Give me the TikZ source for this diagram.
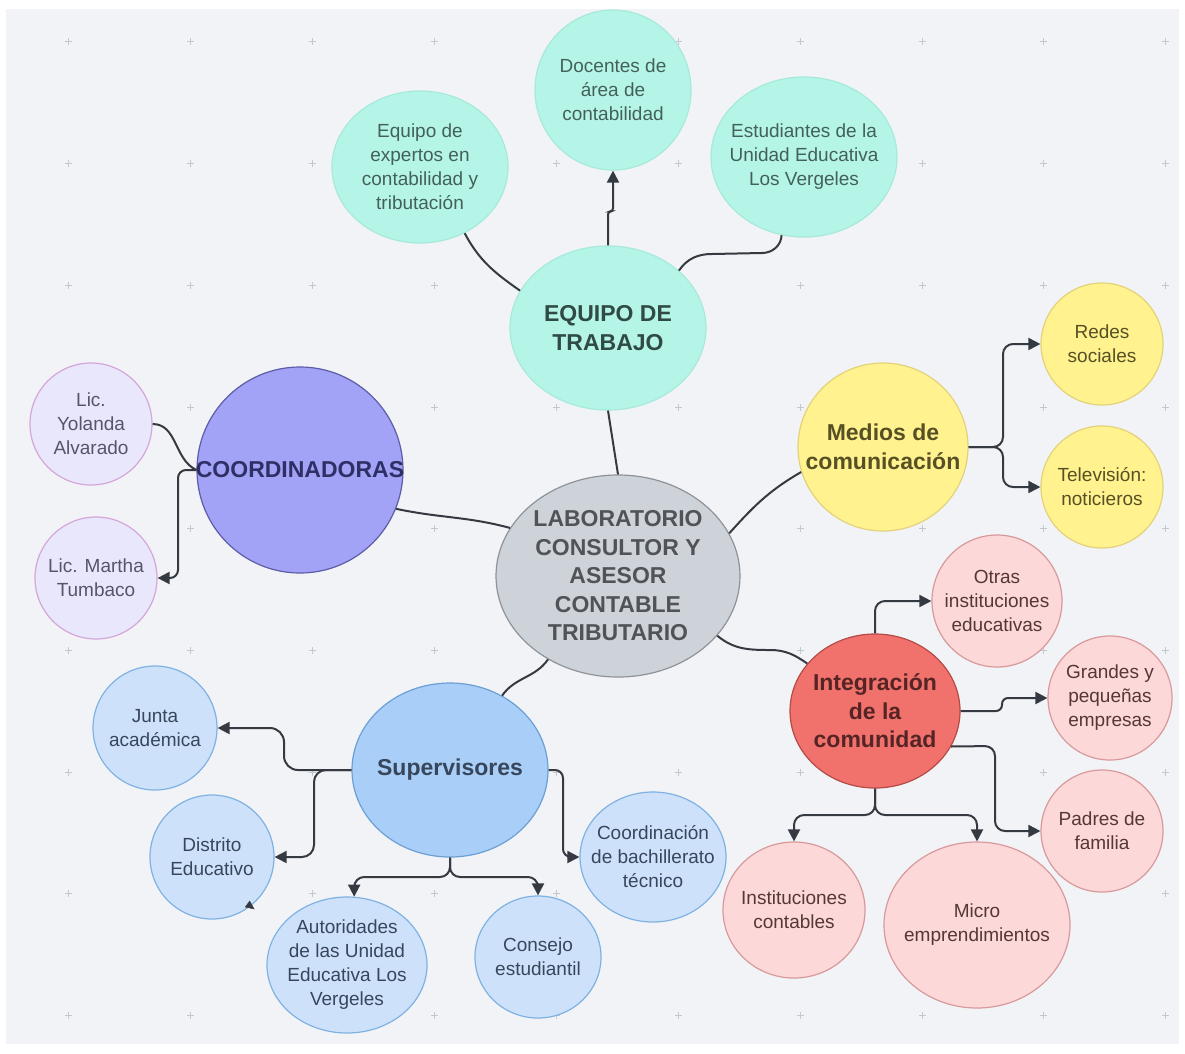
\documentclass[tikz,border=0pt]{standalone}
\usepackage{fontspec}
\setmainfont{Liberation Sans}
\usetikzlibrary{shapes.geometric,arrows.meta}
\definecolor{panel}{HTML}{F2F3F6}
\definecolor{gridc}{HTML}{C3C7CE}
\definecolor{linec}{HTML}{353A42}
\definecolor{tealF}{HTML}{B4F5E7}
\definecolor{tealD}{HTML}{A6EADB}
\definecolor{tealT}{HTML}{44605B}
\definecolor{tealBT}{HTML}{304A45}
\definecolor{coordF}{HTML}{A2A2F6}
\definecolor{coordD}{HTML}{5C5CA8}
\definecolor{coordT}{HTML}{2F2F66}
\definecolor{licF}{HTML}{E9E7FB}
\definecolor{licD}{HTML}{D4A6DA}
\definecolor{licT}{HTML}{55556D}
\definecolor{cenF}{HTML}{CED2D9}
\definecolor{cenD}{HTML}{8E939A}
\definecolor{cenT}{HTML}{505459}
\definecolor{yelF}{HTML}{FFF28F}
\definecolor{yelD}{HTML}{E3D27A}
\definecolor{yelT}{HTML}{575024}
\definecolor{intF}{HTML}{F1716C}
\definecolor{intD}{HTML}{B54A47}
\definecolor{intT}{HTML}{552424}
\definecolor{pkF}{HTML}{FCD8D8}
\definecolor{pkD}{HTML}{D9999B}
\definecolor{pkT}{HTML}{553737}
\definecolor{supF}{HTML}{A9CEF7}
\definecolor{supD}{HTML}{6C9FD6}
\definecolor{lbF}{HTML}{CDE2FA}
\definecolor{lbD}{HTML}{7FB2E2}
\definecolor{bluT}{HTML}{38465C}
\newcommand\bub[6]{%
  \node[#2,minimum width=#4pt,minimum height=#5pt] (#1) at (#3) {};
  \node[#2txt] (#1-t) at (#1.center) {#6};}
\begin{document}
\begin{tikzpicture}[x=1pt,y=1pt,
  shp/.style={ellipse,inner sep=0pt,line width=1.2pt},
  sm/.style={align=center,font=\fontsize{19}{24}\selectfont},
  bg/.style={align=center,font=\bfseries\fontsize{23}{28.5}\selectfont},
  tl/.style={shp,fill=tealF,draw=tealD}, tltxt/.style={sm,text=tealT},
  tlb/.style={shp,fill=tealF,draw=tealD}, tlbtxt/.style={bg,text=tealBT},
  pu/.style={shp,fill=coordF,draw=coordD}, putxt/.style={bg,text=coordT},
  lv/.style={shp,fill=licF,draw=licD}, lvtxt/.style={sm,text=licT},
  gy/.style={shp,fill=cenF,draw=cenD}, gytxt/.style={bg,text=cenT},
  ye/.style={shp,fill=yelF,draw=yelD}, yetxt/.style={bg,text=yelT},
  yl/.style={shp,fill=yelF,draw=yelD}, yltxt/.style={sm,text=yelT},
  rd/.style={shp,fill=intF,draw=intD}, rdtxt/.style={bg,text=intT},
  pk/.style={shp,fill=pkF,draw=pkD}, pktxt/.style={sm,text=pkT},
  bl/.style={shp,fill=supF,draw=supD}, bltxt/.style={bg,text=bluT},
  lb/.style={shp,fill=lbF,draw=lbD}, lbtxt/.style={sm,text=bluT},
  conn/.style={draw=linec,line width=2pt},
  arr/.style={conn,-{Triangle[length=12pt,width=12pt]}}
]
\useasboundingbox (0,0) rectangle (1185,-1053);
\fill[white] (0,0) rectangle (1185,-1053);
\fill[panel] (6,-9) rectangle (1179,-1044);
\foreach \x in {68,190,312,434,556,678,800,922,1043,1165}
  \foreach \y in {41,163,285,407,528,650,772,893,1015}
    {\draw[gridc,line width=0.7pt] (\x-3.5,-\y) -- (\x+3.5,-\y) (\x,-\y-3.5) -- (\x,-\y+3.5);}

% nodes
\bub{center}{gy}{618,-576}{244}{202}{LABORATORIO\\CONSULTOR Y\\ASESOR\\CONTABLE\\TRIBUTARIO}
\bub{eq}{tlb}{608,-328}{196}{164}{EQUIPO DE\\TRABAJO}
\bub{expertos}{tl}{420,-167}{176}{152}{Equipo de\\expertos en\\contabilidad y\\tributación}
\bub{docentes}{tl}{613,-90}{156}{160}{Docentes de\\área de\\contabilidad}
\bub{estudiantes}{tl}{804,-157}{186}{160}{Estudiantes de la\\Unidad Educativa\\Los Vergeles}
\bub{coord}{pu}{300,-470}{206}{206}{COORDINADORAS}
\bub{yolanda}{lv}{91,-424}{122}{122}{Lic.\\Yolanda\\Alvarado}
\bub{martha}{lv}{96,-578}{122}{122}{Lic. Martha\\Tumbaco}
\bub{medios}{ye}{883,-447}{170}{168}{Medios de\\comunicación}
\bub{redes}{yl}{1102,-344}{122}{122}{Redes\\sociales}
\bub{tele}{yl}{1102,-487}{122}{122}{Televisión:\\noticieros}
\bub{integ}{rd}{875,-711}{170}{154}{Integración\\de la\\comunidad}
\bub{otras}{pk}{997,-601}{130}{132}{Otras\\instituciones\\educativas}
\bub{grandes}{pk}{1110,-698}{124}{124}{Grandes y\\pequeñas\\empresas}
\bub{padres}{pk}{1102,-831}{122}{122}{Padres de\\familia}
\bub{instit}{pk}{794,-910}{142}{136}{Instituciones\\contables}
\bub{micro}{pk}{977,-925}{186}{166}{Micro\\emprendimientos}
\bub{superv}{bl}{450,-770}{196}{174}{Supervisores}
\bub{junta}{lb}{155,-728}{124}{124}{Junta\\académica}
\bub{distrito}{lb}{212,-857}{124}{124}{Distrito\\Educativo}
\bub{autor}{lb}{347,-965}{160}{136}{Autoridades\\de las Unidad\\Educativa Los\\Vergeles}
\bub{consejo}{lb}{538,-957}{126}{122}{Consejo\\estudiantil}
\bub{coordbach}{lb}{653,-857}{146}{130}{Coordinación\\de bachillerato\\técnico}

% connectors
\draw[conn] (expertos.-56) to[out=-62,in=145] (eq.157);
\draw[arr,rounded corners=3] (eq.north) -- ++(0,34) -| (docentes.south);
\draw[conn] (eq.39) to[out=55,in=180] (712,-254) -- (762,-253) to[out=0,in=-92] (estudiantes.-106);
\draw[conn] (eq.south) -- (center.north);
\draw[conn] (coord.-22) to[out=-12,in=165] (center.156);
\draw[conn] (center.21) to[out=48,in=-150] (medios.-163);
\draw[arr,rounded corners=10] (medios.east) -- (1003,-447) |- (redes.west);
\draw[arr,rounded corners=10] (medios.east) -- (1003,-447) |- (tele.west);
\draw[conn] (center.-31) to[out=-40,in=180] (770,-650) to[out=0,in=145] (integ.145);
\draw[arr,rounded corners=10] (integ.north) |- (otras.west);
\draw[arr,rounded corners=6] (integ.east) -- (1002,-711) |- (grandes.west);
\draw[arr,rounded corners=10] (integ.-25) -- (995,-746) |- (padres.west);
\draw[arr,rounded corners=10] (integ.south) -- (875,-815) -| (instit.north);
\draw[arr,rounded corners=10] (integ.south) -- (875,-815) -| (micro.north);
\draw[conn] (center.-130) to[out=-125,in=55] (superv.55);
\draw[arr,rounded corners=14] (superv.west) -- (284,-770) |- (junta.east);
\draw[arr,rounded corners=12] (superv.west) -- (314,-770) |- (distrito.east);
\draw[arr,rounded corners=10] (superv.south) -- (450,-877) -| (autor.84);
\draw[arr,rounded corners=10] (superv.south) -- (450,-877) -| (consejo.north);
\draw[arr,rounded corners=8] (superv.east) -- (563,-770) |- (coordbach.west);
\draw[conn] (yolanda.east) to[out=0,in=155] (coord.west);
\draw[arr,rounded corners=8] (coord.west) -- (178,-470) |- (martha.east);
\draw[draw=linec,fill=linec,line width=0.5pt,-{Triangle[length=9pt,width=8pt]}] (distrito.-52) -- ++(4,-3);
\end{tikzpicture}
\end{document}
